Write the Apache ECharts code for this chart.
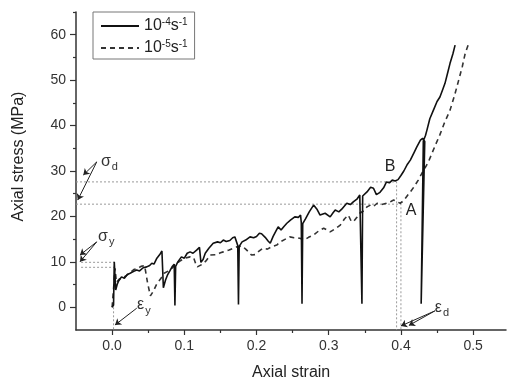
<!DOCTYPE html>
<html><head><meta charset="utf-8">
<script src="https://cdn.jsdelivr.net/npm/echarts@6/dist/echarts.min.js"></script>
<style>html,body{margin:0;padding:0;background:#fff}#c{width:507px;height:385px}</style>
</head><body><div id="c"></div>
<script>
// 10^-4 s^-1 curve (solid)
const strainFast = [0.000,0.002,0.003,0.005,0.007,0.009,0.013,0.017,0.021,0.025,0.030,0.034,0.038,0.043,0.048,0.052,0.055,0.058,0.062,0.066,0.069,0.071,0.074,0.077,0.080,0.083,0.086,0.087,0.088,0.091,0.096,0.100,0.104,0.108,0.112,0.117,0.121,0.123,0.126,0.129,0.134,0.140,0.146,0.150,0.154,0.158,0.163,0.167,0.170,0.174,0.175,0.176,0.180,0.185,0.191,0.196,0.200,0.204,0.207,0.212,0.216,0.219,0.223,0.227,0.230,0.234,0.238,0.242,0.247,0.253,0.258,0.261,0.262,0.263,0.264,0.268,0.273,0.279,0.284,0.288,0.295,0.302,0.306,0.309,0.314,0.318,0.325,0.330,0.334,0.339,0.343,0.345,0.346,0.347,0.353,0.358,0.362,0.366,0.371,0.376,0.380,0.384,0.388,0.392,0.396,0.400,0.404,0.409,0.413,0.418,0.422,0.427,0.430,0.432,0.433,0.428,0.431,0.434,0.436,0.440,0.445,0.450,0.454,0.458,0.461,0.465,0.468,0.472,0.475];
const stressFast = [0.0,0.5,10.0,3.8,5.0,5.8,6.7,6.4,7.2,7.5,7.9,8.2,8.0,8.7,8.9,9.2,9.7,9.5,10.8,11.6,12.4,4.3,6.0,7.2,8.0,8.9,9.5,0.4,9.0,10.0,11.1,10.8,11.9,12.2,11.9,12.6,13.2,9.9,10.5,11.9,13.0,14.1,14.4,14.2,14.8,14.5,14.7,15.3,15.5,13.6,0.6,13.4,14.4,14.8,15.5,15.3,15.6,16.3,16.2,15.4,14.6,14.1,15.6,16.8,17.7,17.0,17.8,18.5,19.2,19.9,19.8,20.3,18.6,0.8,18.4,19.5,21.0,22.5,21.5,20.3,20.7,19.9,20.8,21.4,21.0,21.6,22.9,22.6,23.2,23.8,24.7,24.3,0.8,24.5,25.4,26.4,26.2,24.8,25.3,26.3,27.6,27.4,28.0,27.8,28.1,29.0,30.0,31.5,32.4,34.0,35.3,36.8,37.2,37.5,36.5,0.8,36.6,37.8,39.0,41.5,43.4,45.3,46.3,48.0,49.3,51.8,53.7,55.8,57.7];
// 10^-5 s^-1 curve (dashed)
const strainSlow = [0.000,0.002,0.004,0.006,0.010,0.015,0.020,0.025,0.030,0.035,0.040,0.045,0.047,0.049,0.053,0.057,0.062,0.067,0.072,0.078,0.083,0.088,0.094,0.101,0.108,0.113,0.116,0.118,0.124,0.130,0.136,0.145,0.150,0.154,0.162,0.168,0.173,0.180,0.185,0.189,0.193,0.198,0.203,0.209,0.215,0.222,0.228,0.234,0.240,0.246,0.252,0.260,0.266,0.272,0.279,0.286,0.293,0.298,0.302,0.309,0.316,0.322,0.327,0.331,0.334,0.339,0.343,0.348,0.353,0.358,0.362,0.367,0.373,0.380,0.386,0.390,0.395,0.399,0.404,0.409,0.413,0.418,0.424,0.429,0.433,0.438,0.443,0.448,0.454,0.460,0.468,0.474,0.480,0.485,0.489,0.493];
const stressSlow = [0.0,4.0,8.6,5.5,6.2,6.5,7.0,7.6,8.3,8.5,9.0,9.2,9.4,5.5,2.5,3.5,5.2,6.2,7.5,8.0,8.6,9.4,10.2,10.8,11.1,10.9,9.5,8.9,9.4,10.2,11.5,11.6,12.0,12.2,12.6,13.0,13.3,13.5,12.8,12.2,11.5,11.6,12.3,13.0,12.8,13.4,13.7,14.5,15.0,15.5,15.3,15.2,14.8,15.4,15.9,16.8,17.4,17.0,16.6,17.3,18.1,19.5,20.3,19.0,18.8,19.8,20.7,21.2,22.1,22.5,22.2,22.9,22.6,22.9,23.3,23.6,23.2,22.9,23.5,24.6,25.4,26.5,28.0,29.5,30.6,32.0,33.9,35.8,38.0,40.5,43.4,46.5,50.0,53.0,55.9,57.7];

const xTicks = [0,0.1,0.2,0.3,0.4,0.5];
const xMinorTicks = [0.05,0.15,0.25,0.35,0.45];
const yTicks = [0,10,20,30,40,50,60];
const yMinorTicks = [5,15,25,35,45,55,65];

// reference guide levels
const sigmaDLevels = [27.6, 22.7];   // B, A
const epsDLevels = [0.394, 0.400];
const sigmaYLevels = [9.9, 8.8];
const epsYLevel = 0.002;

// annotation arrows [from, to] in data units
const arrowsData = [
  [[-0.0213,32.0],[-0.0399,29.1]],
  [[-0.0213,32.0],[-0.0476,23.6]],
  [[-0.0213,14.4],[-0.0445,11.5]],
  [[-0.0213,14.4],[-0.0445,10.0]],
  [[0.0341,-0.2],[0.004,-3.9]],
  [[0.447,-0.8],[0.400,-4.1]],
  [[0.447,-0.8],[0.411,-4.0]]
];
// symbol labels: [strain, stress, main, sub]
const symbolLabels = [
  [-0.0154, 32.0, 'σ', 'd'],
  [-0.0195, 15.5, 'σ', 'y'],
  [0.0345, 0.5, 'ε', 'y'],
  [0.447, -0.15, 'ε', 'd']
];
const pointLabels = [
  [0.385, 31.0, 'B'],
  [0.414, 21.2, 'A']
];

const FONT = 'Liberation Sans, Arial, sans-serif';
const pair = (xs, ys) => xs.map((x, i) => [x, ys[i]]);

const chart = echarts.init(document.getElementById('c'), null, {renderer: 'canvas'});
const guideStyle = {color: '#9a9a9a', width: 1, type: [2, 2]};
const guide = (data) => ({type: 'line', data, symbol: 'none', silent: true, lineStyle: guideStyle, z: 1});

const option = {
  animation: false,
  backgroundColor: '#fff',
  grid: {left: 76, right: 1, top: 12, bottom: 55},
  xAxis: [{
    type: 'value', min: -0.05, max: 0.5455,
    axisLine: {show: true, onZero: false, lineStyle: {color: '#333', width: 1.5}},
    axisTick: {show: true, length: 5, customValues: xTicks, lineStyle: {color: '#333', width: 1.2}},
    axisLabel: {customValues: xTicks, formatter: v => v.toFixed(1), fontFamily: FONT, fontSize: 14, color: '#333', margin: 9},
    splitLine: {show: false}
  }, {
    type: 'value', min: -0.05, max: 0.5455, position: 'bottom',
    axisLine: {show: false, onZero: false},
    axisTick: {show: true, length: 3, customValues: xMinorTicks, lineStyle: {color: '#333', width: 1.2}},
    axisLabel: {show: false},
    splitLine: {show: false}
  }],
  yAxis: [{
    type: 'value', min: -5, max: 65,
    axisLine: {show: true, onZero: false, lineStyle: {color: '#333', width: 1.5}},
    axisTick: {show: true, length: 6, customValues: yTicks, lineStyle: {color: '#333', width: 1.2}},
    axisLabel: {customValues: yTicks, fontFamily: FONT, fontSize: 14, color: '#333', margin: 10},
    splitLine: {show: false}
  }, {
    type: 'value', min: -5, max: 65, position: 'left',
    axisLine: {show: false, onZero: false},
    axisTick: {show: true, length: 3, customValues: yMinorTicks, lineStyle: {color: '#333', width: 1.2}},
    axisLabel: {show: false},
    splitLine: {show: false}
  }],
  legend: {
    data: ['r4', 'r5'],
    orient: 'vertical', left: 93, top: 12,
    padding: [5, 7, 3, 7], itemGap: 5, itemWidth: 38, itemHeight: 14,
    borderColor: '#777', borderWidth: 1, backgroundColor: '#fff',
    selectedMode: false,
    itemStyle: {opacity: 0, borderWidth: 0},
    formatter: n => n === 'r4' ? '{m|10}{s|-4}{m|s}{s|-1}' : '{m|10}{s|-5}{m|s}{s|-1}',
    textStyle: {
      fontFamily: FONT, color: '#222',
      rich: {
        m: {fontSize: 16, lineHeight: 18, fontFamily: FONT, color: '#222'},
        s: {fontSize: 10, lineHeight: 10, verticalAlign: 'top', fontFamily: FONT, color: '#222'}
      }
    }
  },
  series: [
    guide([[-0.05, sigmaDLevels[0]], [epsDLevels[0], sigmaDLevels[0]], [epsDLevels[0], -5]]),
    guide([[-0.05, sigmaDLevels[1]], [epsDLevels[1], sigmaDLevels[1]], [epsDLevels[1], -5]]),
    guide([[-0.043, sigmaYLevels[0]], [0.003, sigmaYLevels[0]]]),
    guide([[-0.043, sigmaYLevels[1]], [0.003, sigmaYLevels[1]]]),
    guide([[epsYLevel, 0], [epsYLevel, -5]]),
    {
      name: 'r5', type: 'line', data: pair(strainSlow, stressSlow), symbol: 'none', z: 3,
      lineStyle: {color: '#333', width: 1.6, type: [5, 4]}, itemStyle: {color: '#333'}
    },
    {
      name: 'r4', type: 'line', data: pair(strainFast, stressFast), symbol: 'none', z: 4,
      lineStyle: {color: '#111', width: 1.6}, itemStyle: {color: '#111'}
    },
    {
      type: 'lines', coordinateSystem: 'cartesian2d', silent: true, z: 5,
      symbol: ['none', 'arrow'], symbolSize: 6,
      lineStyle: {color: '#222', width: 1, opacity: 1, curveness: 0},
      data: arrowsData.map(c => ({coords: c}))
    }
  ]
};
chart.setOption(option);

const graphics = [];
symbolLabels.forEach(([x, y, m, s]) => {
  const p = chart.convertToPixel({gridIndex: 0}, [x, y]);
  graphics.push({
    type: 'text', x: p[0], y: p[1], silent: true,
    style: {
      text: '{g|' + m + '}{b|' + s + '}', verticalAlign: 'middle', align: 'left',
      rich: {
        g: {fontSize: 16, lineHeight: 16, fontFamily: FONT, fill: '#333', verticalAlign: 'bottom'},
        b: {fontSize: 11, lineHeight: 11, fontFamily: FONT, fill: '#333', verticalAlign: 'bottom', padding: [0, 0, -3, 1]}
      }
    }
  });
});
pointLabels.forEach(([x, y, t]) => {
  const p = chart.convertToPixel({gridIndex: 0}, [x, y]);
  graphics.push({
    type: 'text', x: p[0], y: p[1], silent: true,
    style: {text: t, fontSize: 16, fontFamily: FONT, fill: '#222', align: 'center', verticalAlign: 'middle'}
  });
});
graphics.push({
  type: 'text', x: 252, y: 373, silent: true,
  style: {text: 'Axial strain', fontSize: 16, fontFamily: FONT, fill: '#222', align: 'left', verticalAlign: 'middle'}
});
graphics.push({
  type: 'text', x: 18.5, y: 156.5, rotation: Math.PI / 2, silent: true,
  style: {text: 'Axial stress (MPa)', fontSize: 16, fontFamily: FONT, fill: '#222', align: 'center', verticalAlign: 'middle'}
});
chart.setOption({graphic: graphics});
</script>
</body></html>
